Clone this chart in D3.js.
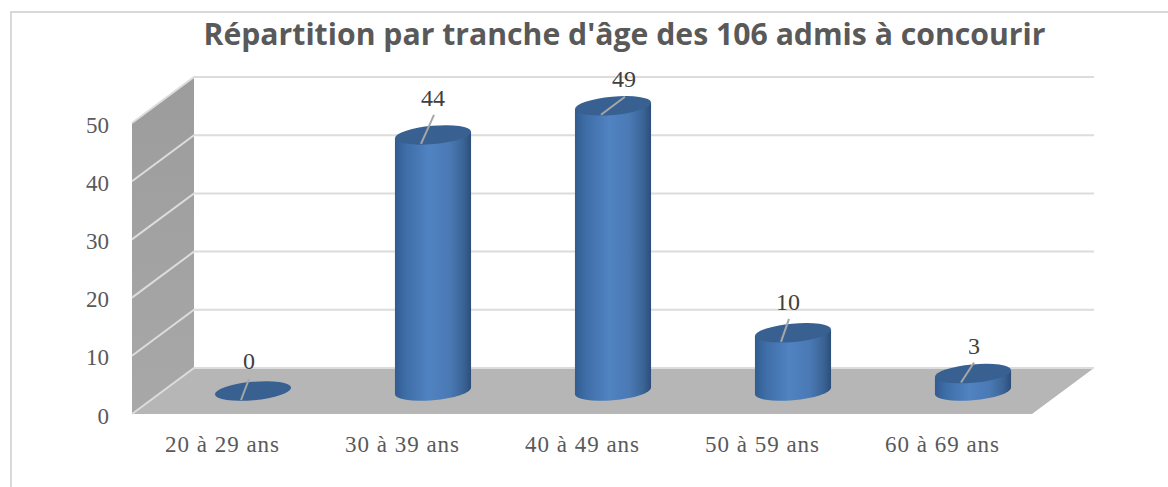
<!DOCTYPE html>
<html>
<head>
<meta charset="utf-8">
<script src="https://d3js.org/d3.v7.min.js"></script>
<style>
    html, body { margin: 0; padding: 0; background: white; }
    svg { display: block; }
</style>
</head>
<body>
<div id="chart"></div>
<script>
// data
const categories = ["20 à 29 ans", "30 à 39 ans", "40 à 49 ans", "50 à 59 ans", "60 à 69 ans"];
const admis = [0, 44, 49, 10, 3];
const yTicks = [0, 10, 20, 30, 40, 50];
const titre = "Répartition par tranche d'âge des 106 admis à concourir";

// where each value label was dragged to, relative to the top of its cylinder
const labelDx = [-4, 0, 11, -5, 1];
const leaderEnd = [[-4, -12], [1, -20], [12, -9], [-4, -14], [1, -11]];
const labelBase = [-22, -29, -19, -23, -20];

const width = 1168, height = 487;
const serif = "'Liberation Serif', serif";

// front plane of the 3D box, the back wall is shifted by depth
const depth = {x: 62, y: -46};
const x = d3.scaleBand().domain(categories).range([132, 1032]);
const y = d3.scaleLinear().domain([0, 50]).range([414, 123]);

// d = 0 front plane, d = 1 back wall
const px = (xv, d) => xv + depth.x * d;
const py = (v, d) => y(v) + depth.y * d;

const svg = d3.select("#chart").append("svg")
    .attr("width", width)
    .attr("height", height);

const defs = svg.append("defs");
const grad = defs.append("linearGradient")
    .attr("id", "cyl")
    .attr("x1", "0%").attr("x2", "100%")
    .attr("y1", "0%").attr("y2", "0%");
[["0%", "#315c90"], ["15%", "#3f6ea8"], ["45%", "#5083c2"], ["72%", "#4a79b4"], ["90%", "#3a6495"], ["100%", "#2c4e7a"]]
    .forEach(s => grad.append("stop").attr("offset", s[0]).attr("stop-color", s[1]));

const wall = defs.append("linearGradient")
    .attr("id", "wall")
    .attr("x1", "0%").attr("x2", "0%")
    .attr("y1", "0%").attr("y2", "100%");
[["0%", "#9c9c9c"], ["100%", "#a8a8a8"]]
    .forEach(s => wall.append("stop").attr("offset", s[0]).attr("stop-color", s[1]));

// chart frame
svg.append("rect")
    .attr("x", 11).attr("y", 12)
    .attr("width", 1180).attr("height", 520)
    .attr("fill", "white")
    .attr("stroke", "#d9d9d9")
    .attr("stroke-width", 2);

svg.append("text")
    .text(titre)
    .attr("x", 624.5)
    .attr("y", 45)
    .attr("text-anchor", "middle")
    .style("font-family", "'Open Sans'")
    .style("font-weight", 700)
    .style("font-size", "30.2px")
    .style("fill", "#595959");

const x0 = x.range()[0], x1 = x.range()[1];

// side wall
svg.append("path")
    .attr("d", d3.line()([[px(x0, 0), py(0, 0)], [px(x0, 1), py(0, 1)], [px(x0, 1), py(50, 1)], [px(x0, 0), py(50, 0)]]) + "Z")
    .attr("fill", "url(#wall)");

// floor
svg.append("path")
    .attr("d", d3.line()([[px(x0, 0), py(0, 0)], [px(x0, 1), py(0, 1)], [px(x1, 1), py(0, 1)], [px(x1, 0), py(0, 0)]]) + "Z")
    .attr("fill", "#b6b6b6");

// grid lines on back wall and side wall
svg.selectAll(".grid")
    .data(yTicks)
    .enter()
    .append("path")
    .attr("class", "grid")
    .attr("d", d => d3.line()([[px(x0, 0), py(d, 0)], [px(x0, 1), py(d, 1)], [px(x1, 1), py(d, 1)]]))
    .attr("fill", "none")
    .attr("stroke", "#dcdcdc")
    .attr("stroke-width", 2);

// y labels
svg.selectAll(".ylab")
    .data(yTicks)
    .enter()
    .append("text")
    .attr("class", "ylab")
    .text(d => d)
    .attr("x", 109)
    .attr("y", d => y(d) + 9.5)
    .attr("text-anchor", "end")
    .style("font-family", serif)
    .style("font-size", "23px")
    .style("fill", "#595959");

// x labels
svg.selectAll(".xlab")
    .data(categories)
    .enter()
    .append("text")
    .attr("class", "xlab")
    .text(d => d)
    .attr("x", d => x(d) + x.bandwidth() / 2 + 0.5)
    .attr("y", 452)
    .attr("text-anchor", "middle")
    .style("font-family", serif)
    .style("font-size", "23px")
    .style("letter-spacing", "1px")
    .style("fill", "#595959");

// cylinders, ellipse tilted because of the perspective
const a = 38.2, b = 9.2, tilt = -5.2;
const th = tilt * Math.PI / 180;
const t = Math.atan2(-b * Math.sin(th), a * Math.cos(th));
const tanX = a * Math.cos(t) * Math.cos(th) - b * Math.sin(t) * Math.sin(th);
const tanY = a * Math.cos(t) * Math.sin(th) + b * Math.sin(t) * Math.cos(th);

const cx = i => px(x(categories[i]) + x.bandwidth() / 2, 0.5);
const cy = v => py(v, 0.5);

const bars = svg.selectAll(".bar")
    .data(admis)
    .enter()
    .append("g")
    .attr("class", "bar");

bars.append("path")
    .attr("d", (d, i) => {
        let X = cx(i);
        return "M" + (X - tanX) + "," + (cy(d) - tanY)
            + "L" + (X - tanX) + "," + (cy(0) - tanY)
            + "A" + a + "," + b + " " + tilt + " 0 0 " + (X + tanX) + "," + (cy(0) + tanY)
            + "L" + (X + tanX) + "," + (cy(d) + tanY) + "Z";
    })
    .style("display", d => d > 0 ? null : "none")
    .attr("fill", "url(#cyl)");

bars.append("ellipse")
    .attr("rx", a)
    .attr("ry", b)
    .attr("transform", (d, i) => "translate(" + cx(i) + "," + cy(d) + ") rotate(" + tilt + ")")
    .attr("fill", "#386192");

// leader lines and value labels
bars.append("line")
    .attr("x1", (d, i) => cx(i) - 12)
    .attr("y1", d => cy(d) + 9)
    .attr("x2", (d, i) => cx(i) + leaderEnd[i][0])
    .attr("y2", (d, i) => cy(d) + leaderEnd[i][1])
    .attr("stroke", "#a6a6a6")
    .attr("stroke-width", 2);

bars.append("text")
    .text(d => d)
    .attr("x", (d, i) => cx(i) + labelDx[i])
    .attr("y", (d, i) => cy(d) + labelBase[i])
    .attr("text-anchor", "middle")
    .style("font-family", serif)
    .style("font-size", "24px")
    .style("fill", "#404040");
</script>
</body>
</html>
